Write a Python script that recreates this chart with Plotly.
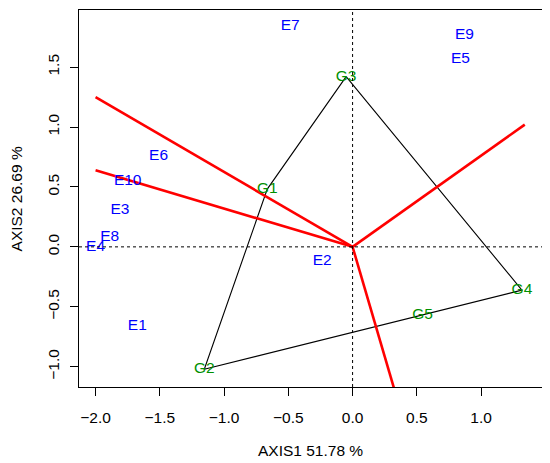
import plotly.graph_objects as go

# Environment scores
env_names = ["E1", "E2", "E3", "E4", "E5", "E6", "E7", "E8", "E9", "E10"]
env_x = [-1.675, -0.236, -1.81, -2.0, 0.84, -1.51, -0.485, -1.89, 0.87, -1.75]
env_y = [-0.66, -0.12, 0.31, 0.0, 1.57, 0.76, 1.84, 0.08, 1.77, 0.55]

# Genotype scores
gen_names = ["G1", "G2", "G3", "G4", "G5"]
gen_x = [-0.664, -1.154, -0.05, 1.318, 0.545]
gen_y = [0.482, -1.021, 1.42, -0.361, -0.57]

# Convex hull order (vertices)
hull_order = ["G3", "G1", "G2", "G5", "G4", "G3"]

# Sector-dividing rays from origin (end points)
ray_x = [-2.0, -2.0, 1.34, 0.41]
ray_y = [1.25, 0.64, 1.02, -1.50]

x_ticks = [-2.0, -1.5, -1.0, -0.5, 0.0, 0.5, 1.0]
y_ticks = [-1.0, -0.5, 0.0, 0.5, 1.0, 1.5]

x_title = "AXIS1 51.78 %"
y_title = "AXIS2 26.69 %"

FONT = "Liberation Sans, Arial, sans-serif"
BLUE = "#0000FF"
GREEN = "#009000"

fig = go.Figure()

# reference dotted lines at zero
fig.add_hline(y=0, line=dict(color="black", width=1, dash="dot"))
fig.add_vline(x=0, line=dict(color="black", width=1, dash="dot"))

# hull polygon
gi = {n: i for i, n in enumerate(gen_names)}
fig.add_trace(go.Scatter(
    x=[gen_x[gi[n]] for n in hull_order],
    y=[gen_y[gi[n]] for n in hull_order],
    mode="lines", line=dict(color="black", width=1.1),
    hoverinfo="skip", showlegend=False))

# rays
for rx, ry in zip(ray_x, ray_y):
    fig.add_trace(go.Scatter(
        x=[0, rx], y=[0, ry], mode="lines",
        line=dict(color="#FF0000", width=2.6),
        hoverinfo="skip", showlegend=False))

# environment labels
fig.add_trace(go.Scatter(
    x=env_x, y=env_y, mode="text", text=env_names,
    textposition="middle center",
    textfont=dict(color=BLUE, size=15.5, family=FONT),
    showlegend=False, cliponaxis=False))

# genotype labels
fig.add_trace(go.Scatter(
    x=gen_x, y=gen_y, mode="text", text=gen_names,
    textposition="middle center",
    textfont=dict(color=GREEN, size=15.5, family=FONT),
    showlegend=False, cliponaxis=False))

axis_common = dict(
    showgrid=False, zeroline=False,
    showline=True, mirror=True, linecolor="black", linewidth=1,
    ticks="outside", ticklen=8, tickwidth=1, tickcolor="black",
    tickformat=".1f",
    tickfont=dict(family=FONT, size=15.5, color="black"),
)

fig.update_xaxes(range=[-2.129, 1.474], tickvals=x_ticks, ticklabelstandoff=8, **axis_common)
fig.update_yaxes(range=[-1.169, 1.976], tickvals=y_ticks, tickangle=-90,
                 ticklabelstandoff=5, **axis_common)

fig.add_annotation(text=x_title, xref="paper", yref="paper", x=0.5, y=-0.168,
                   showarrow=False, xanchor="center", yanchor="middle",
                   font=dict(family=FONT, size=15.5, color="black"))
fig.add_annotation(text=y_title, xref="paper", yref="paper", x=-0.134, y=0.5,
                   showarrow=False, xanchor="center", yanchor="middle", textangle=-90,
                   font=dict(family=FONT, size=15.5, color="black"))

# page body adds an 8px offset, so the figure is sized to compensate
fig.update_layout(
    width=542, height=455,
    margin=dict(l=71, r=8, t=2, b=76, autoexpand=False),
    plot_bgcolor="white", paper_bgcolor="white",
    showlegend=False,
)

fig.write_html("out.html")
